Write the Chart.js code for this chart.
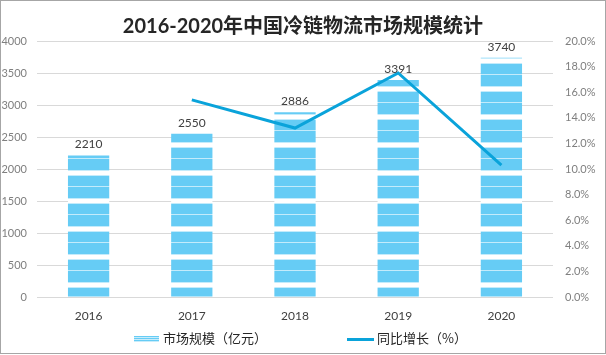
<!DOCTYPE html>
<html>
<head>
<meta charset="utf-8">
<script src="https://cdn.jsdelivr.net/npm/chart.js@4"></script>
<style>
  html, body { margin: 0; padding: 0; background: #fff; }
  #wrap { position: relative; width: 606px; height: 355px; overflow: hidden; }
  #frame { position: absolute; left: 0; top: 0; width: 604px; height: 352px; border: 1px solid #a6a6a6; box-sizing: content-box; pointer-events: none; }
  #title { position: absolute; left: 0; top: 12px; width: 606px; text-align: center; font: bold 20px "Lato", "Noto Sans CJK SC", sans-serif; color: #262626; line-height: 26px; }
  .leg { position: absolute; top: 330px; font: 13px "Noto Sans CJK SC", sans-serif; color: #262626; line-height: 16px; }
  canvas { position: absolute; left: 0; top: 0; }
</style>
</head>
<body>
<div id="wrap">
  <canvas id="c" width="606" height="355"></canvas>
  <div id="title">2016-2020年中国冷链物流市场规模统计</div>
  <div class="leg" style="left:134px;"><span style="display:inline-block;width:25px;height:6px;vertical-align:middle;margin-right:4px;background:repeating-linear-gradient(#66ccf5 0,#66ccf5 1px,#c7ecfb 1px,#c7ecfb 2px);"></span>市场规模（亿元）</div>
  <div class="leg" style="left:347px;"><span style="display:inline-block;width:27px;height:3px;vertical-align:middle;margin-right:3px;background:#0aa3da;"></span>同比增长（%）</div>
  <div id="frame"></div>
</div>
<script>
const categories = ['2016', '2017', '2018', '2019', '2020'];
const marketSize = [2210, 2550, 2886, 3391, 3740];
const growthRate = [null, 15.4, 13.2, 17.5, 10.3];
const leftTicks = [0, 500, 1000, 1500, 2000, 2500, 3000, 3500, 4000];

// striped bar pattern
function makePattern() {
  const t = document.createElement('canvas');
  t.width = 4; t.height = 28;
  const g = t.getContext('2d');
  g.fillStyle = '#66ccf5'; g.fillRect(0, 0, 4, 28);
  g.fillStyle = '#c3ebfb'; g.fillRect(0, 2, 4, 1); g.fillRect(0, 7, 4, 1);
  g.fillStyle = '#ffffff'; g.fillRect(0, 3, 4, 4);
  g.fillStyle = '#c3ebfb'; g.fillRect(0, 18, 4, 1);
  return document.getElementById('c').getContext('2d').createPattern(t, 'repeat');
}

const barLabels = {
  id: 'barLabels',
  afterDatasetsDraw(chart) {
    const ctx = chart.ctx;
    const meta = chart.getDatasetMeta(1);
    ctx.save();
    ctx.font = '12px "Lato", sans-serif';
    ctx.fillStyle = '#404040';
    ctx.textAlign = 'center';
    ctx.textBaseline = 'bottom';
    meta.data.forEach((el, i) => {
      ctx.fillText(String(marketSize[i]), el.x, el.y - 5);
    });
    ctx.restore();
  }
};

new Chart(document.getElementById('c'), {
  data: {
    labels: categories,
    datasets: [
      { type: 'line', label: '同比增长（%）', data: growthRate, yAxisID: 'y1',
        borderColor: '#0aa3da', backgroundColor: '#0aa3da', borderWidth: 3, pointRadius: 0, tension: 0, order: 0 },
      { type: 'bar', label: '市场规模（亿元）', data: marketSize, yAxisID: 'y',
        backgroundColor: makePattern(), borderWidth: 0, barPercentage: 0.4, categoryPercentage: 1.0, order: 1 }
    ]
  },
  options: {
    responsive: false,
    animation: false,
    devicePixelRatio: 1,
    layout: { padding: { top: 41, left: 0, right: 0, bottom: 0 } },
    plugins: { legend: { display: false }, title: { display: false }, tooltip: { enabled: false } },
    scales: {
      x: {
        grid: { display: false, drawTicks: false },
        border: { display: false },
        ticks: { padding: 12, color: '#404040', font: { family: 'Lato', size: 12 } },
        afterFit(s) { s.height = 58; }
      },
      y: {
        position: 'left', min: 0, max: 4000,
        afterBuildTicks(s) { s.ticks = leftTicks.map(v => ({ value: v })); },
        grid: { color: '#d9d9d9', drawTicks: false },
        border: { display: false },
        ticks: { padding: 10, color: '#7f7f7f', font: { family: 'Lato', size: 11 }, callback: v => String(v) },
        afterFit(s) { s.width = 37; }
      },
      y1: {
        position: 'right', min: 0, max: 20,
        grid: { display: false, drawTicks: false },
        border: { display: false },
        ticks: { stepSize: 2, padding: 12, color: '#7f7f7f', font: { family: 'Lato', size: 11 }, callback: v => v.toFixed(1) + '%' },
        afterFit(s) { s.width = 53; }
      }
    }
  },
  plugins: [barLabels]
});
</script>
</body>
</html>
